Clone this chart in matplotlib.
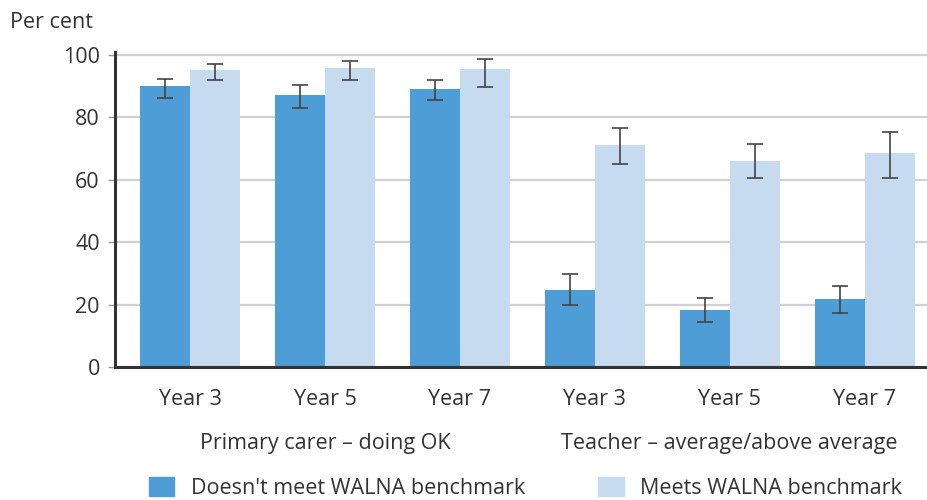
import numpy as np
import matplotlib.pyplot as plt

plt.rcParams['font.family'] = ['Open Sans', 'DejaVu Sans']

# Share of students (%) by primary carer and teacher ratings
years = ['Year 3', 'Year 5', 'Year 7', 'Year 3', 'Year 5', 'Year 7']
groups = ['Primary carer – doing OK', 'Teacher – average/above average']
series_names = ["Doesn't meet WALNA benchmark", 'Meets WALNA benchmark']

not_met = [90.0, 87.2, 89.2, 24.8, 18.4, 21.7]
not_met_lo = [86.4, 83.0, 85.5, 19.9, 14.5, 17.4]
not_met_hi = [92.5, 90.4, 92.0, 29.9, 22.2, 26.1]

met = [95.2, 95.9, 95.4, 71.2, 66.2, 68.5]
met_lo = [91.9, 91.9, 89.8, 65.1, 60.5, 60.7]
met_hi = [97.3, 98.2, 98.6, 76.6, 71.6, 75.3]

dark_blue = '#4f9dd6'
light_blue = '#c7dbf0'
text_col = '#333333'
fs = 15.5

fig = plt.figure(figsize=(9.28, 5), dpi=100)
ax = fig.add_axes([0.124, 0.266, 0.876, 0.63])

x = np.arange(len(years))
w = 0.37

def err(vals, lo, hi):
    vals, lo, hi = map(np.array, (vals, lo, hi))
    return [vals - lo, hi - vals]

ax.bar(x - w / 2, not_met, w, color=dark_blue, zorder=2)
ax.bar(x + w / 2, met, w, color=light_blue, zorder=2)
ax.errorbar(x - w / 2, not_met, yerr=err(not_met, not_met_lo, not_met_hi),
            fmt='none', ecolor='#444444', elinewidth=1.2, capsize=6, capthick=1.2, zorder=3)
ax.errorbar(x + w / 2, met, yerr=err(met, met_lo, met_hi),
            fmt='none', ecolor='#444444', elinewidth=1.2, capsize=6, capthick=1.2, zorder=3)

ax.set_xlim(-0.557, 5.47)
ax.set_ylim(0, 101)
ax.set_yticks([0, 20, 40, 60, 80, 100])
ax.yaxis.grid(True, color='#d0d0d4', linewidth=1.6, zorder=0)
ax.set_axisbelow(True)

for s in ['top', 'right']:
    ax.spines[s].set_visible(False)
for s in ['left', 'bottom']:
    ax.spines[s].set_color('#333333')
    ax.spines[s].set_linewidth(2.2)

ax.tick_params(axis='y', length=5, width=1, color='#999999', labelsize=fs,
               labelcolor=text_col, pad=6)
ax.tick_params(axis='x', length=0, labelsize=fs, labelcolor=text_col, pad=16)
ax.set_xticks(x)
ax.set_xticklabels(years)

# group captions under the year labels
for i, g in enumerate(groups):
    ax.text(3 * i + 1, -0.243, g, transform=ax.get_xaxis_transform(),
            ha='center', va='center', fontsize=fs, color=text_col)

fig.text(10 / 928, 1 - 22 / 500, 'Per cent', ha='left', va='center',
         fontsize=fs, color=text_col)

# legend along the bottom edge
handles = [plt.Rectangle((0, 0), 1, 1, color=dark_blue),
           plt.Rectangle((0, 0), 1, 1, color=light_blue)]
fig.legend(handles, series_names, loc='center', bbox_to_anchor=(0.566, 1 - 488 / 500),
           ncol=2, frameon=False, fontsize=fs, handlelength=1.2, handleheight=0.95,
           columnspacing=3.4, handletextpad=0.75, labelcolor=text_col)

fig.savefig('out.png', dpi=100)
